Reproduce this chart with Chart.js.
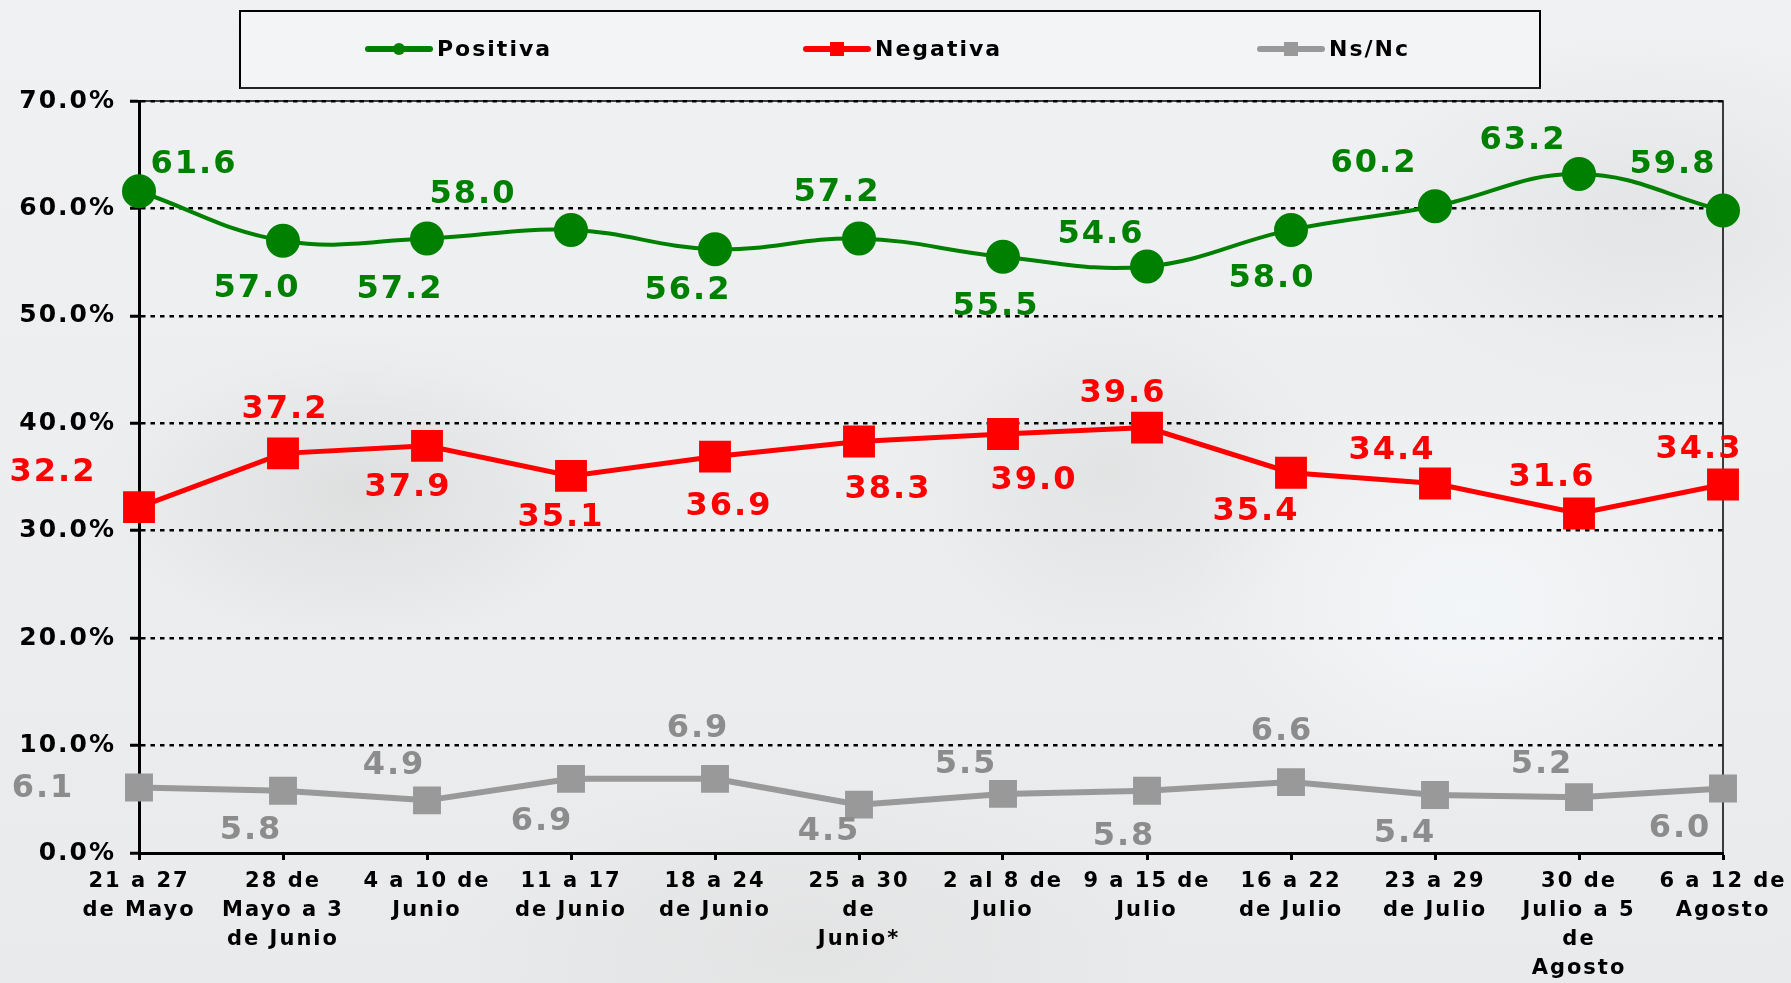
<!DOCTYPE html>
<html>
<head>
<meta charset="utf-8">
<script src="https://cdn.jsdelivr.net/npm/chart.js@4/dist/chart.umd.min.js"></script>
<style>
  html, body { margin:0; padding:0; }
  body {
    width:1791px; height:983px; overflow:hidden;
    background:
      radial-gradient(ellipse 380px 220px at 20% 50%, rgba(205,205,205,0.45), rgba(205,205,205,0) 70%),
      radial-gradient(ellipse 300px 260px at 62% 48%, rgba(210,210,210,0.4), rgba(210,210,210,0) 70%),
      radial-gradient(ellipse 420px 260px at 92% 22%, rgba(212,212,212,0.4), rgba(212,212,212,0) 70%),
      radial-gradient(ellipse 520px 240px at 45% 96%, rgba(218,218,218,0.45), rgba(218,218,218,0) 70%),
      radial-gradient(ellipse 400px 300px at 82% 62%, rgba(245,248,251,0.8), rgba(245,248,251,0) 70%),
      linear-gradient(180deg, #eff1f3 0%, #ecedee 60%, #e9eaeb 100%);
  }
  #wrap { position:absolute; left:0; top:0; width:1791px; height:983px; }
</style>
</head>
<body>
<div id="wrap"><canvas id="chart" width="1791" height="983"></canvas></div>
<script>
// data
const weeks = [
  ['21 a 27','de Mayo'],
  ['28 de','Mayo a 3','de Junio'],
  ['4 a 10 de','Junio'],
  ['11 a 17','de Junio'],
  ['18 a 24','de Junio'],
  ['25 a 30','de','Junio*'],
  ['2 al 8 de','Julio'],
  ['9 a 15 de','Julio'],
  ['16 a 22','de Julio'],
  ['23 a 29','de Julio'],
  ['30 de','Julio a 5','de','Agosto'],
  ['6 a 12 de','Agosto']
];
const positiva = [61.6, 57.0, 57.2, 58.0, 56.2, 57.2, 55.5, 54.6, 58.0, 60.2, 63.2, 59.8];
const negativa = [32.2, 37.2, 37.9, 35.1, 36.9, 38.3, 39.0, 39.6, 35.4, 34.4, 31.6, 34.3];
const nsnc     = [6.1, 5.8, 4.9, 6.9, 6.9, 4.5, 5.5, 5.8, 6.6, 5.4, 5.2, 6.0];
const yTicks   = [0, 10, 20, 30, 40, 50, 60, 70];

// label offsets (px from the point), as placed in the original
const offPos = [[55,-27],[-26,48],[-27,51],[-98,-35],[-27,41],[-22,-46],[-7,50],[-46,-32],[-19,49],[-61,-43],[-56,-33],[-50,-46]];
const offNeg = [[-86,-34],[2,-44],[-19,42],[-10,42],[14,50],[29,48],[31,47],[-24,-34],[-35,39],[-43,-33],[-27,-36],[-24,-35]];
const offNs  = [[-96,1],[-32,40],[-33,-35],[-29,43],[-17,-50],[-30,27],[-37,-29],[-23,46],[-9,-50],[-30,39],[-37,-32],[-43,40]];

const GREEN = '#008000', RED = '#ff0000', GREY = '#999999';
const FONT = '"DejaVu Sans", Verdana, sans-serif';

const spacing = {
  id: 'spacing',
  beforeLayout(chart){ chart.ctx.letterSpacing = '2px'; },
  beforeDraw(chart){ chart.ctx.letterSpacing = '2px'; }
};

// legend box drawn by hand to keep the wide spacing of the original
const legendBox = {
  id: 'legendBox',
  afterDraw(chart){
    const ctx = chart.ctx;
    ctx.save();
    ctx.fillStyle = 'rgba(244,245,246,0.8)';
    ctx.fillRect(240, 11, 1300, 77);
    ctx.strokeStyle = '#000'; ctx.lineWidth = 2;
    ctx.strokeRect(240, 11, 1300, 77);
    ctx.fillStyle = '#222';
    ctx.fillRect(240, 87, 1301, 2);
    const items = [
      {x:368, text:'Positiva', c:GREEN, s:'circle'},
      {x:806, text:'Negativa', c:RED, s:'rect'},
      {x:1260, text:'Ns/Nc', c:GREY, s:'rect'}
    ];
    const y = 49;
    items.forEach(it => {
      ctx.strokeStyle = it.c; ctx.lineWidth = 6; ctx.lineCap = 'round';
      ctx.beginPath(); ctx.moveTo(it.x, y); ctx.lineTo(it.x + 62, y); ctx.stroke();
      ctx.fillStyle = it.c;
      if (it.s === 'circle') { ctx.beginPath(); ctx.arc(it.x + 31, y, 6, 0, Math.PI*2); ctx.fill(); }
      else ctx.fillRect(it.x + 24, y - 7, 14, 14);
      ctx.fillStyle = '#000';
      ctx.font = 'bold 22px ' + FONT;
      ctx.letterSpacing = '2px';
      ctx.textBaseline = 'middle'; ctx.textAlign = 'left';
      ctx.fillText(it.text, it.x + 69, y + 1);
    });
    ctx.restore();
  }
};

// value labels next to each point
const valueLabels = {
  id: 'valueLabels',
  afterDatasetsDraw(chart){
    const ctx = chart.ctx;
    const offs = [offPos, offNeg, offNs];
    const cols = [GREEN, RED, '#8c8c8c'];
    ctx.save();
    ctx.font = 'bold 32px ' + FONT;
    ctx.letterSpacing = '2px';
    ctx.textAlign = 'center'; ctx.textBaseline = 'middle';
    chart.data.datasets.forEach((ds, di) => {
      const meta = chart.getDatasetMeta(di);
      meta.data.forEach((pt, i) => {
        ctx.fillStyle = cols[di];
        ctx.fillText(ds.data[i].toFixed(1), pt.x + offs[di][i][0], pt.y + offs[di][i][1]);
      });
    });
    ctx.restore();
  }
};

// thin frame on the top and right of the plot
const frame = {
  id: 'frame',
  beforeDatasetsDraw(chart){
    const a = chart.chartArea, ctx = chart.ctx;
    ctx.save();
    ctx.strokeStyle = '#000'; ctx.lineWidth = 1.5;
    ctx.beginPath();
    ctx.moveTo(a.left, a.top); ctx.lineTo(a.right, a.top); ctx.lineTo(a.right, a.bottom);
    ctx.stroke();
    ctx.restore();
  }
};

new Chart(document.getElementById('chart'), {
  type: 'line',
  data: {
    labels: weeks,
    datasets: [
      {label:'Positiva', data:positiva, borderColor:GREEN, backgroundColor:GREEN, borderWidth:4,
       tension:0.4, pointStyle:'circle', pointRadius:15, pointHoverRadius:15},
      {label:'Negativa', data:negativa, borderColor:RED, backgroundColor:RED, borderWidth:5,
       tension:0, pointStyle:'rect', pointRadius:19, pointHoverRadius:19},
      {label:'Ns/Nc', data:nsnc, borderColor:GREY, backgroundColor:GREY, borderWidth:6,
       tension:0, pointStyle:'rect', pointRadius:15.5, pointHoverRadius:15.5}
    ]
  },
  options: {
    responsive: false,
    animation: false,
    layout: { padding: { top: 101, right: 68, left: 0, bottom: 0 } },
    plugins: { legend: { display:false }, tooltip: { enabled:false } },
    scales: {
      x: {
        offset: false,
        grid: { drawOnChartArea:false, drawTicks:true, tickLength:7, tickWidth:3, tickColor:'#000' },
        border: { color:'#000', width:3 },
        ticks: { color:'#000', font:{ family:FONT, size:21, weight:'bold', lineHeight:1.38 },
                 maxRotation:0, autoSkip:false, padding:7 },
        afterFit(s){ s.height = 130; s.paddingLeft = 0; s.paddingRight = 0; }
      },
      y: {
        min: 0, max: 70,
        afterBuildTicks(s){ s.ticks = yTicks.map(v => ({value:v})); },
        grid: { color:'#000', lineWidth:2.5, tickBorderDash:[], tickColor:'#000',
                tickWidth:3, tickLength:9 },
        border: { color:'#000', width:3, dash:[4.5,5] },
        ticks: { color:'#000', font:{ family:FONT, size:25, weight:'bold' }, padding:14,
                 callback: v => v.toFixed(1) + '%' },
        afterFit(s){ s.width = 139; s.paddingTop = 0; s.paddingBottom = 0; }
      }
    }
  },
  plugins: [spacing, frame, valueLabels, legendBox]
});
</script>
</body>
</html>
